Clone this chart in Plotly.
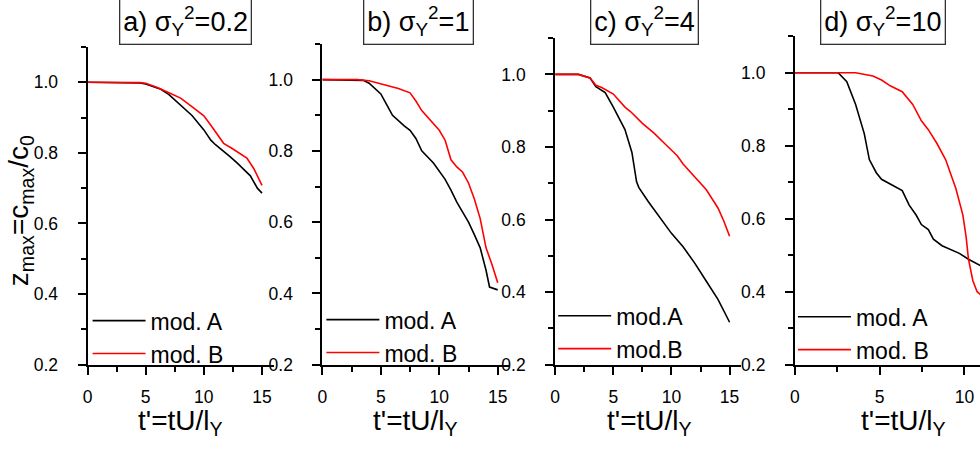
import plotly.graph_objects as go

# ---------------- data ----------------
x_a_A = [0, 2, 4, 4.5, 5, 6, 6.3, 7, 8, 9, 10, 10.6, 11, 11.7, 12.3, 12.9, 13.5, 14, 14.6, 15]
y_a_A = [1.0, 1.0, 1.0, 0.998, 0.995, 0.985, 0.98, 0.965, 0.935, 0.905, 0.865, 0.836, 0.823,
         0.805, 0.788, 0.77, 0.752, 0.735, 0.70, 0.686]
x_a_B = [0, 2, 4, 4.5, 5, 6, 7, 8, 9, 10, 10.6, 11, 11.7, 12.4, 13, 13.7, 14.3, 14.7, 15]
y_a_B = [1.0, 1.0, 1.0, 0.999, 0.997, 0.985, 0.97, 0.955, 0.93, 0.905, 0.878, 0.86, 0.827,
         0.813, 0.80, 0.785, 0.755, 0.73, 0.708]

x_b_A = [0, 2.5, 3.5, 4, 4.5, 5, 5.5, 6, 7, 7.5, 8, 8.5, 9.5, 10.5, 11, 11.5, 12, 12.5, 13,
         13.5, 14, 14.3, 15]
y_b_A = [1.0, 1.0, 0.998, 0.99, 0.975, 0.96, 0.93, 0.90, 0.87, 0.858, 0.835, 0.80, 0.766,
         0.72, 0.69, 0.656, 0.628, 0.60, 0.565, 0.528, 0.465, 0.418, 0.41]
x_b_B = [0, 3, 4, 5, 6, 6.5, 7.5, 8, 8.5, 9, 10, 10.5, 11, 11.5, 12, 12.5, 13, 13.5, 14,
         14.5, 15]
y_b_B = [1.0, 1.0, 0.997, 0.988, 0.98, 0.975, 0.963, 0.94, 0.913, 0.894, 0.858, 0.83, 0.775,
         0.755, 0.74, 0.71, 0.665, 0.61, 0.528, 0.482, 0.43]

x_c_A = [0, 2, 3, 3.5, 4.3, 5, 6, 6.6, 7, 7.2, 8, 9, 10, 11, 12, 13, 14, 15]
y_c_A = [1.0, 1.0, 0.99, 0.966, 0.95, 0.91, 0.848, 0.785, 0.704, 0.688, 0.65, 0.605, 0.562,
         0.525, 0.48, 0.43, 0.38, 0.317]
x_c_B = [0, 2, 3, 3.5, 4, 5, 6, 6.5, 7.5, 8.5, 9.5, 10.5, 11, 12, 13, 14, 14.5, 15]
y_c_B = [1.0, 1.0, 0.99, 0.97, 0.964, 0.946, 0.91, 0.897, 0.865, 0.838, 0.807, 0.776, 0.753,
         0.717, 0.682, 0.632, 0.596, 0.554]

x_d_A = [0, 2.55, 3.06, 3.58, 4.09, 4.39, 4.8, 5.11, 5.62, 6.33, 6.74, 7.15, 7.46, 7.87, 8.17,
         8.68, 9.7, 10.24, 11]
y_d_A = [1.0, 1.0, 0.975, 0.913, 0.833, 0.762, 0.726, 0.708, 0.695, 0.677, 0.637, 0.61, 0.584,
         0.57, 0.544, 0.526, 0.505, 0.489, 0.47]
x_d_B = [0, 3.58, 4.6, 5.11, 5.62, 6.33, 6.95, 7.46, 7.87, 8.38, 8.89, 9.5, 9.91, 10.1, 10.24,
         10.5, 10.75, 11]
y_d_B = [1.0, 1.0, 0.991, 0.98, 0.964, 0.948, 0.913, 0.868, 0.844, 0.806, 0.762, 0.682, 0.61,
         0.55, 0.489, 0.43, 0.40, 0.39]

panel_titles = ["a) σ<sub>Y</sub><sup>2</sup>=0.2", "b) σ<sub>Y</sub><sup>2</sup>=1",
                "c) σ<sub>Y</sub><sup>2</sup>=4", "d) σ<sub>Y</sub><sup>2</sup>=10"]
legend_names = [["mod. A", "mod. B"], ["mod. A", "mod. B"], ["mod.A", "mod.B"], ["mod. A", "mod. B"]]
x_title = "t'=tU/l<sub>Y</sub>"
y_title = "z<sub>max</sub>=c<sub>max</sub>/c<sub>0</sub>"
x_ticks = [0, 5, 10, 15]
y_ticks = [0.2, 0.4, 0.6, 0.8, 1.0]

# ---------------- layout geometry ----------------
W, H = 980, 450
FONT = "Liberation Sans, Arial, sans-serif"
x_domains = [(83, 270), (319, 507), (553, 740), (794, 980)]
y_tops = [48, 45, 39, 37]
y_bottom = 373
x_ranges = [[0, 16], [0, 16], [0, 16], [0, 10.92]]
title_centers = [181, 416, 643, 882]
xlabel_centers = [176, 413, 648, 903]
legend_pos = [(83, 306), (318, 305), (551, 301), (792, 302)]

series = [
    (x_a_A, y_a_A, x_a_B, y_a_B),
    (x_b_A, y_b_A, x_b_B, y_b_B),
    (x_c_A, y_c_A, x_c_B, y_c_B),
    (x_d_A, y_d_A, x_d_B, y_d_B),
]

fig = go.Figure()
layout = dict(
    width=W, height=H, margin=dict(l=0, r=0, t=0, b=0),
    paper_bgcolor="white", plot_bgcolor="white",
    font=dict(family=FONT, color="black", size=17),
    annotations=[],
)

for i, (xa, ya, xb, yb) in enumerate(series):
    n = "" if i == 0 else str(i + 1)
    lg = "legend" + n
    fig.add_trace(go.Scatter(x=xa, y=ya, mode="lines", name=legend_names[i][0],
                             line=dict(color="black", width=1.6),
                             xaxis="x" + n, yaxis="y" + n, legend=lg))
    fig.add_trace(go.Scatter(x=xb, y=yb, mode="lines", name=legend_names[i][1],
                             line=dict(color="red", width=1.6),
                             xaxis="x" + n, yaxis="y" + n, legend=lg))
    x0, x1 = x_domains[i]
    common = dict(showgrid=False, zeroline=False, showline=True, linecolor="black",
                  linewidth=2, ticks="outside", tickwidth=2, tickcolor="black",
                  ticklen=8, tickfont=dict(family=FONT, size=17.5, color="black"))
    layout["xaxis" + n] = dict(
        common, domain=[x0 / W, x1 / W], range=x_ranges[i], anchor="y" + n,
        tickvals=x_ticks, ticklabelstandoff=7,
        minor=dict(dtick=2.5, tick0=0, ticks="outside", ticklen=5, tickwidth=2,
                   tickcolor="black", showgrid=False))
    layout["yaxis" + n] = dict(
        common, domain=[(H - y_bottom) / H, (H - y_tops[i]) / H], range=[0.2, 1.1],
        anchor="x" + n, tickvals=y_ticks, tickformat=".1f", ticklabelstandoff=16,
        minor=dict(dtick=0.1, tick0=0.2, ticks="outside", ticklen=5, tickwidth=2,
                   tickcolor="black", showgrid=False))
    layout[lg] = dict(x=legend_pos[i][0] / W, y=(H - legend_pos[i][1]) / H,
                      xanchor="left", yanchor="top", bgcolor="rgba(0,0,0,0)",
                      borderwidth=0, font=dict(family=FONT, size=23, color="black"),
                      tracegroupgap=0, itemwidth=53)
    layout["annotations"].append(dict(
        text=panel_titles[i], x=title_centers[i] / W, y=1 - 22 / H, xref="paper",
        yref="paper", xanchor="center", yanchor="middle", showarrow=False,
        font=dict(family=FONT, size=27, color="black"),
        bordercolor="#333333", borderwidth=1.3, borderpad=3, bgcolor="white"))
    layout["annotations"].append(dict(
        text=x_title, x=xlabel_centers[i] / W, y=1 - 432 / H, xref="paper", yref="paper",
        xanchor="center", yanchor="middle", showarrow=False,
        font=dict(family=FONT, size=28, color="black")))

layout["annotations"].append(dict(
    text=y_title, x=15 / W, y=1 - 215 / H, xref="paper", yref="paper", textangle=-90,
    xanchor="center", yanchor="middle", showarrow=False,
    font=dict(family=FONT, size=28, color="black")))

fig.update_layout(**layout)
fig.write_html("out.html")
